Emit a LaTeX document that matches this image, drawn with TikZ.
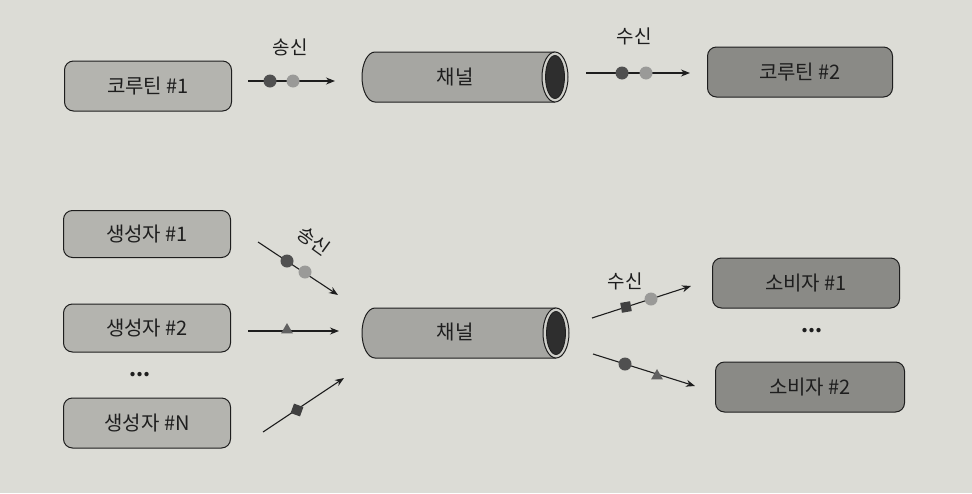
\documentclass[tikz,border=0pt]{standalone}
\usepackage{fontspec}
\setmainfont{Noto Sans CJK KR}
\usetikzlibrary{arrows.meta,shapes.geometric}
\definecolor{bg}{HTML}{DCDCD6}
\definecolor{boxlight}{HTML}{B4B4AF}
\definecolor{boxdark}{HTML}{8A8A86}
\definecolor{pipe}{HTML}{A6A6A2}
\definecolor{rim}{HTML}{CFCFCA}
\definecolor{hole}{HTML}{2E2E2E}
\definecolor{dotdark}{HTML}{505050}
\definecolor{dotlight}{HTML}{9A9A98}
\definecolor{ink}{HTML}{1E1E1E}
\tikzset{
  lbox/.style={draw=ink, line width=1pt, rounded corners=9pt, fill=boxlight, minimum width=167pt, minimum height=50pt, font=\fontsize{20}{24}\selectfont, text=ink, inner sep=0pt},
  dbox/.style={lbox, fill=boxdark},
  lbl/.style={font=\fontsize{19}{22}\selectfont, text=ink, inner sep=0pt},
  flow/.style={draw=ink, line width=1.1pt, -{Stealth[length=9pt,width=7pt]}},
  ddot/.style={circle, fill=dotdark, minimum size=13pt, inner sep=0pt},
  ldot/.style={circle, fill=dotlight, minimum size=13pt, inner sep=0pt},
  sqm/.style={rectangle, fill=dotdark!80!black, minimum size=10pt, inner sep=0pt},
  trim/.style={isosceles triangle, shape border rotate=90, isosceles triangle apex angle=60, fill=dotdark!90, minimum height=10pt, minimum width=12pt, inner sep=0pt},
  ptxt/.style={font=\fontsize{20}{24}\selectfont, text=ink, inner sep=0pt}
}
% pipe: #1 left x, #2 right-end center x, #3 center y
\newcommand{\mypipe}[3]{%
  \fill[pipe] (#2,#3-25) -- (#1+13,#3-25) arc[start angle=270, end angle=90, x radius=13, y radius=25] -- (#2,#3+25) -- cycle;
  \draw[ink, line width=1pt] (#2,#3-25) -- (#1+13,#3-25) arc[start angle=270, end angle=90, x radius=13, y radius=25] -- (#2,#3+25);
  \draw[ink, line width=1pt, fill=rim] (#2,#3) ellipse[x radius=13, y radius=25];
  \draw[ink, line width=0.8pt, fill=hole] (#2,#3) ellipse[x radius=9.5, y radius=21.5];
}
\begin{document}
\begin{tikzpicture}[x=1pt,y=-1pt]
\useasboundingbox[fill=bg] (0,0) rectangle (972,493);

% ---------- top row ----------
\node[lbox] (c1) at (148,86) {코루틴 \#1};
\node[dbox, minimum width=185pt] (c2) at (800,72) {코루틴 \#2};

\mypipe{362}{555}{77}
\node[ptxt] (ch1) at (455,77) {채널};

\coordinate (a1s) at (248,81);
\coordinate (a1e) at (335,81);
\draw[flow] (a1s) -- (a1e);
\node[ddot] (d1) at (270,81) {};
\node[ldot] (d2) at (293,81) {};
\node[lbl] (send1) at (290,47) {송신};

\coordinate (a2s) at (586,73);
\coordinate (a2e) at (690,73);
\draw[flow] (a2s) -- (a2e);
\node[ddot] (d3) at (622,73) {};
\node[ldot] (d4) at (646,73) {};
\node[lbl] (recv1) at (634,36) {수신};

% ---------- bottom ----------
\node[lbox, minimum height=47pt] (p1) at (147,234) {생성자 \#1};
\node[lbox, minimum height=48pt] (p2) at (147,328) {생성자 \#2};
\node[ptxt] (pdots) at (140,375) {\textbf{...}};
\node[lbox] (pn) at (147,423) {생성자 \#N};

\mypipe{362}{556}{333}
\node[ptxt] (ch2) at (455,332) {채널};

\coordinate (b1s) at (258,242);
\coordinate (b1e) at (338,295);
\draw[flow] (b1s) -- (b1e);
\node[ddot] (d5) at (287,261) {};
\node[ldot] (d6) at (305,272) {};
\node[lbl, rotate=-36] (send2) at (314,241) {송신};

\coordinate (b2s) at (248,331);
\coordinate (b2e) at (339,331);
\draw[flow] (b2s) -- (b2e);
\node[trim] (t1) at (287,330) {};

\coordinate (b3s) at (263,432);
\coordinate (b3e) at (344,378);
\draw[flow] (b3s) -- (b3e);
\node[sqm, rotate=-20] (s1) at (297,410) {};

\node[dbox, minimum width=187pt] (k1) at (806,283) {소비자 \#1};
\node[ptxt] (kdots) at (812,331) {\textbf{...}};
\node[dbox, minimum width=189pt] (k2) at (810,387) {소비자 \#2};

\coordinate (r1s) at (592,318);
\coordinate (r1e) at (691,286);
\draw[flow] (r1s) -- (r1e);
\node[sqm, rotate=10] (s2) at (626,307) {};
\node[ldot] (d7) at (651,299) {};
\node[lbl] (recv2) at (625,281) {수신};

\coordinate (r2s) at (593,354);
\coordinate (r2e) at (695,386);
\draw[flow] (r2s) -- (r2e);
\node[ddot] (d8) at (625,364) {};
\node[trim] (t2) at (657,376) {};
\end{tikzpicture}
\end{document}
